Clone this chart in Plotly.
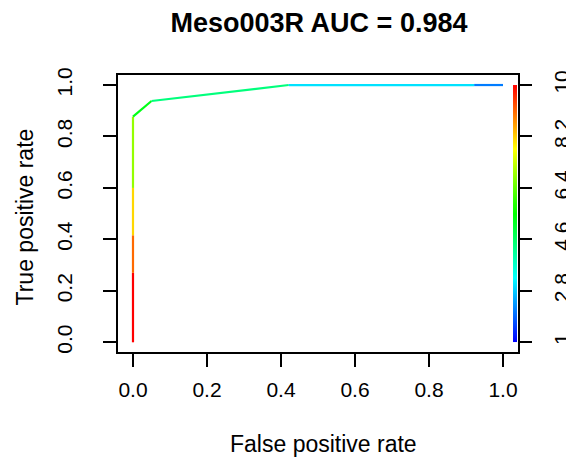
import colorsys
import numpy as np
import plotly.graph_objects as go
from plotly.colors import sample_colorscale

# ---- data ----
title_text = "Meso003R AUC = 0.984"
fpr = [0.0, 0.0, 0.0, 0.0, 0.0, 0.05, 0.421, 0.922, 1.0]
tpr = [0.0, 0.27, 0.416, 0.60, 0.877, 0.938, 1.0, 1.0, 1.0]
seg_cutoff = [10.0, 9.06, 8.1, 6.8, 5.3, 4.4, 3.0, 2.1]   # cutoff colouring each segment
x_ticks = [0.0, 0.2, 0.4, 0.6, 0.8, 1.0]
y_ticks = [0.0, 0.2, 0.4, 0.6, 0.8, 1.0]
cut_ticks = [1, 2.8, 4.6, 6.4, 8.2, 10]
cut_min, cut_max = 1.0, 10.0

# rainbow colour scale (blue at low cutoff -> red at high cutoff), like R rainbow(start=0,end=4/6)
nstops = 25
rainbow = []
for i in range(nstops):
    f = i / (nstops - 1)
    h = (1 - f) * (4 / 6)
    r, g, b = colorsys.hsv_to_rgb(h, 1, 1)
    rainbow.append([f, f"rgb({int(r*255)},{int(g*255)},{int(b*255)})"])

xr = [-0.0405, 1.0405]
yr = [-0.0377, 1.039]
y2r = [cut_min + (cut_max - cut_min) * yr[0], cut_min + (cut_max - cut_min) * yr[1]]

fig = go.Figure()

# coloured ROC curve, one segment per cutoff
for i, c in enumerate(seg_cutoff):
    col = sample_colorscale(rainbow, [(c - cut_min) / (cut_max - cut_min)])[0]
    fig.add_trace(go.Scatter(
        x=fpr[i:i + 2], y=tpr[i:i + 2], mode="lines",
        line=dict(color=col, width=2.2), showlegend=False, hoverinfo="skip"))

# colour bar inside the plot on the right
bar_edges = np.linspace(cut_min, cut_max, 257)
bar_z = [[v] for v in (bar_edges[:-1] + bar_edges[1:]) / 2]
fig.add_trace(go.Heatmap(
    x=[1.027, 1.039], y=bar_edges, z=bar_z, colorscale=rainbow,
    zmin=cut_min, zmax=cut_max, showscale=False, zsmooth=False,
    yaxis="y2", hoverinfo="skip"))

# the page body adds an 8px margin, so the figure is sized to the remaining window
W, H = 566, 455
font = "Liberation Sans, Arial, sans-serif"
fig.update_layout(
    width=W, height=H,
    margin=dict(l=110, r=56, t=67, b=111),
    plot_bgcolor="white", paper_bgcolor="white",
    font=dict(family=font, size=21, color="black"),
    title=dict(text="<b>" + title_text + "</b>", x=311 / W, xanchor="center",
               y=1 - 14.5 / H, yanchor="middle", font=dict(size=27, color="black")),
    xaxis=dict(range=xr, tickvals=x_ticks, ticktext=[f"{v:.1f}" for v in x_ticks],
               showgrid=False, zeroline=False, showline=True, mirror=True, automargin=False,
               linecolor="black", linewidth=2, ticks="outside", ticklen=13,
               tickwidth=2, tickcolor="black", ticklabelstandoff=5),
    yaxis=dict(range=yr, tickvals=y_ticks, ticktext=[f"{v:.1f}" for v in y_ticks],
               showgrid=False, zeroline=False, showline=True, mirror=True, automargin=False,
               linecolor="black", linewidth=2, ticks="outside", ticklen=13,
               tickwidth=2, tickcolor="black", tickangle=-90, ticklabelstandoff=23),
    yaxis2=dict(range=y2r, overlaying="y", side="right", tickvals=cut_ticks, automargin=False,
                ticktext=[f"{v:g}" for v in cut_ticks], showgrid=False, zeroline=False,
                showline=False, ticks="outside", ticklen=13, tickwidth=2,
                tickcolor="black", tickangle=-90, ticklabelstandoff=12),
    annotations=[
        dict(text="False positive rate", xref="paper", yref="paper", x=0.5125, y=-0.332,
             xanchor="center", yanchor="middle", showarrow=False, font=dict(size=23)),
        dict(text="True positive rate", xref="paper", yref="paper", x=-0.2325, y=0.4856,
             xanchor="center", yanchor="middle", textangle=-90, showarrow=False,
             font=dict(size=23)),
    ],
)

fig.write_html("out.html")
